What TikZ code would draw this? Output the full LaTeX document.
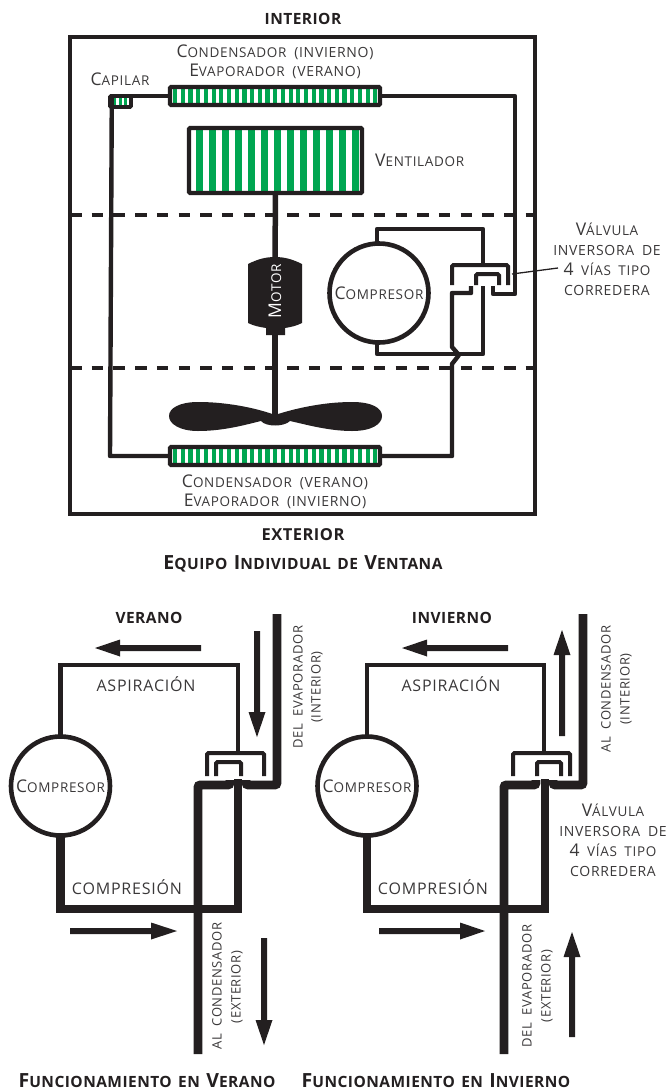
\documentclass[tikz,border=0pt]{standalone}
\usepackage{fontspec}
\setmainfont[LetterSpace=5,WordSpace=1.8]{Open Sans}
\newfontfamily\headfont[LetterSpace=3,WordSpace=2.2]{Open Sans}
\definecolor{coilgreen}{HTML}{00A651}
\definecolor{inkblack}{HTML}{231F20}
\definecolor{labelgray}{HTML}{3A3839}
% big first letter, smaller rest
\newcommand{\capsm}[2]{{\fontsize{17.5}{20}\selectfont #1}{\fontsize{13.5}{20}\selectfont #2}}
\newcommand{\hdcapsm}[2]{{\fontsize{19.5}{20}\selectfont #1}{\fontsize{15.5}{20}\selectfont #2}}
\begin{document}
\begin{tikzpicture}[
    x=1pt, y=-1pt,
    label/.style={inner sep=0, text=labelgray, align=center, font=\fontsize{14}{20}\selectfont},
    bigl/.style={label, font=\fontsize{16}{20}\selectfont},
    vlabel/.style={label, rotate=90, font=\fontsize{13}{20}\selectfont},
    title/.style={inner sep=0, text=inkblack, font=\headfont\bfseries\fontsize{15.5}{20}\selectfont},
    heading/.style={inner sep=0, text=inkblack, font=\headfont\bfseries},
    frame/.style={draw=inkblack, line width=4.2pt},
    coil/.style={rectangle, draw=inkblack, line width=4.2pt, rounded corners=1pt, outer sep=0, inner sep=0, minimum width=210pt, minimum height=18pt},
    fanbox/.style={coil, minimum width=173pt, minimum height=65pt},
    capbox/.style={coil, line width=3.6pt, minimum width=21pt, minimum height=11pt},
    comp/.style={circle, draw=inkblack, line width=4.6pt, outer sep=0, inner sep=0, minimum size=99pt, text=labelgray},
    pipe/.style={draw=inkblack, line width=4.4pt, line join=round},
    thinpipe/.style={draw=inkblack, line width=4.4pt},
    fatpipe/.style={draw=inkblack, line width=8.6pt, rounded corners=2pt},
    slider/.style={draw=inkblack, line width=4pt, rounded corners=1.5pt},
    sep/.style={draw=inkblack, line width=3.2pt, dash pattern=on 11.5pt off 10.2pt},
    flow/.style={draw=none, fill=inkblack},
]

\useasboundingbox (0,0) rectangle (667,1090);

% Upper unit
\foreach \i in {0,...,26}
    \fill[coilgreen] ({173+7.7*\i},89) rectangle +(4.2,14);
\foreach \i in {0,...,26}
    \fill[coilgreen] ({173+7.7*\i},449) rectangle +(4.2,14);
\foreach \i in {0,...,12}
    \fill[coilgreen] ({196+13*\i},129) rectangle +(6.5,63);
\foreach \i in {0,1,2}
    \fill[coilgreen] ({113+5.6*\i},98) rectangle +(3,7);

\draw[frame] (70,37) rectangle (535,514);
\draw[sep] (70,215) -- (535,215);
\draw[sep] (70,368) -- (535,368);

\node[coil] (coiltop) at (275,96) {};
\node[coil] (coilbot) at (275,456) {};
\node[capbox] (capil) at (120.5,101.5) {};
\node[fanbox] (blower) at (275.5,160.5) {};
\node[comp] (compA) at (379,293) {\capsm{C}{OMPRESOR}};

% Motor and fan
\fill[inkblack] (248,264) .. controls (258,259) and (266,257) .. (275,257)
    .. controls (284,257) and (292,259) .. (302,264) -- (302,323)
    .. controls (296,326) and (291,327) .. (285,328) -- (285,335) -- (266,335) -- (266,328)
    .. controls (260,327) and (254,326) .. (248,323) -- cycle;
\node[rotate=90, inner sep=0, text=white] (motor) at (275,291) {\capsm{M}{OTOR}};
\coordinate (hub) at (275,417);
\draw[inkblack, line width=5.5pt] (blower.south) -- (275,258);
\draw[inkblack, line width=5.5pt] (275,334) -- (hub);
\fill[inkblack] (hub) ++(0,-2) .. controls (262,410) and (232,402) .. (198,402)
    .. controls (180,402) and (169,408) .. (169,416)
    .. controls (169,424) and (180,431) .. (198,431)
    .. controls (225,431) and (248,424) .. (261,421)
    .. controls (266,427) and (284,427) .. (290,421)
    .. controls (304,424) and (328,431) .. (352,431)
    .. controls (372,431) and (382,424) .. (382,416)
    .. controls (382,408) and (372,402) .. (352,402)
    .. controls (320,402) and (290,410) .. cycle;

% Refrigerant lines
\draw[pipe] (capil.north west) ++(1.8,1.8) -- (110,456) -- (coilbot.west);
\draw[pipe] (coiltop.west) -- (112,96);
\draw[pipe] (coiltop.east) -- (515,96) -- (515,294) -- (493,294) -- (493,286);
\draw[pipe] (coilbot.east) -- (452,456) -- (452,364) -- (459,355) -- (452,347) -- (452,293) -- (471,293) -- (471,286);
\draw[pipe] (377,245) -- (377,229) -- (483,229) -- (483,265);
\draw[pipe] (377,341) -- (377,354) -- (483,354) -- (483,286);
\draw[slider] (452,285) -- (452,265) -- (508,265) -- (508,285);
\draw[slider] (476,285) -- (476,274) -- (499,274) -- (499,285);
\coordinate (valvetip) at (512,274);
\coordinate (valvetxt) at (558,268);
\draw[inkblack, line width=1.3pt] (valvetip) -- (valvetxt);

\node[heading, font=\headfont\bfseries\fontsize{15.5}{20}\selectfont] (interior) at (303,19) {INTERIOR};
\node[label] (toplabel) at (275,62) {\capsm{C}{ONDENSADOR} (INVIERNO)\\[-0.6pt]\capsm{E}{VAPORADOR} (VERANO)};
\node[label] (caplabel) at (120,79) {\capsm{C}{APILAR}};
\node[label, anchor=west] (fanlabel) at (375,160) {\capsm{V}{ENTILADOR}};
\node[label] (valvelabel) at (607,259) {\capsm{V}{ÁLVULA}\\INVERSORA DE\\\capsm{4}{ VÍAS TIPO}\\CORREDERA};
\node[label] (botlabel) at (275,492) {\capsm{C}{ONDENSADOR} (VERANO)\\[-0.6pt]\capsm{E}{VAPORADOR} (INVIERNO)};
\node[heading, font=\headfont\bfseries\fontsize{16.5}{20}\selectfont] (exterior) at (303,535) {EXTERIOR};
\node[heading] (unittitle) at (303,564) {\hdcapsm{E}{QUIPO} \hdcapsm{I}{NDIVIDUAL} {\fontsize{15.5}{20}\selectfont DE} \hdcapsm{V}{ENTANA}};

% Summer
\node[comp] (compV) at (60.5,786) {\capsm{C}{OMPRESOR}};
\draw[thinpipe] (compV.north) -- (60.5,665) -- (238,665) -- (238,753);
\draw[slider] (207,776) -- (207,753) -- (264,753) -- (264,776);
\draw[slider] (216,776) -- (216,762) -- (241,762) -- (241,776);
\draw[fatpipe] (198,1054) -- (198,785) -- (230,785) -- (230,780);
\draw[fatpipe] (277,614) -- (277,785) -- (246,785) -- (246,780);
\draw[fatpipe, rounded corners=0] (238,779) -- (238,909) -- (60.5,909) -- (compV.south);

\fill[flow] (201,645) -- (120,645) -- (120,639.5) -- (95,648) -- (120,656.5) -- (120,651) -- (201,651) -- cycle;
\fill[flow] (70,928) -- (151,928) -- (151,922.5) -- (177,931) -- (151,939.5) -- (151,934) -- (70,934) -- cycle;
\fill[flow] (254,631) -- (254,712) -- (248.5,712) -- (257,737) -- (265.5,712) -- (260,712) -- (260,631) -- cycle;
\fill[flow] (261,938) -- (261,1020) -- (255.5,1020) -- (264,1045) -- (272.5,1020) -- (267,1020) -- (267,938) -- cycle;

\node[title] (verano) at (149,618) {VERANO};
\node[bigl] (aspV) at (146,684) {ASPIRACIÓN};
\node[bigl] (cpsV) at (127,887) {COMPRESIÓN};
\node[vlabel] (inV) at (298,687) {DEL EVAPORADOR};
\node[vlabel] (inVb) at (317,687) {(INTERIOR)};
\node[vlabel] (outV) at (217,986) {AL CONDENSADOR};
\node[vlabel] (outVb) at (237,987) {(EXTERIOR)};
\node[heading, anchor=base] (titleV) at (147,1087) {\hdcapsm{F}{UNCIONAMIENTO} {\fontsize{15.5}{20}\selectfont EN} \hdcapsm{V}{ERANO}};

% Winter
\node[comp] (compI) at (367,786) {\capsm{C}{OMPRESOR}};
\draw[thinpipe] (compI.north) -- (367,665) -- (544,665) -- (544,753);
\draw[slider] (513,776) -- (513,753) -- (570,753) -- (570,776);
\draw[slider] (537,776) -- (537,762) -- (561,762) -- (561,776);
\draw[fatpipe] (504,1054) -- (504,785) -- (536,785) -- (536,780);
\draw[fatpipe] (583,614) -- (583,785) -- (553,785) -- (553,780);
\draw[fatpipe, rounded corners=0] (545,779) -- (545,909) -- (367,909) -- (compI.south);

\fill[flow] (508,645) -- (427,645) -- (427,639.5) -- (402,648) -- (427,656.5) -- (427,651) -- (508,651) -- cycle;
\fill[flow] (379,928) -- (460,928) -- (460,922.5) -- (485,931) -- (460,939.5) -- (460,934) -- (379,934) -- cycle;
\fill[flow] (559,736) -- (559,655) -- (553.5,655) -- (562,630) -- (570.5,655) -- (565,655) -- (565,736) -- cycle;
\fill[flow] (569,1037) -- (569,957) -- (563.5,957) -- (572,932) -- (580.5,957) -- (575,957) -- (575,1037) -- cycle;

\node[title] (invierno) at (452,618) {INVIERNO};
\node[bigl] (aspI) at (451,684) {ASPIRACIÓN};
\node[bigl] (cpsI) at (433,887) {COMPRESIÓN};
\node[vlabel] (inI) at (606,689) {AL CONDENSADOR};
\node[vlabel] (inIb) at (626,689) {(INTERIOR)};
\node[vlabel] (outI) at (527,986) {DEL EVAPORADOR};
\node[vlabel] (outIb) at (547,986) {(EXTERIOR)};
\node[label] (valvelabelb) at (613,840) {\capsm{V}{ÁLVULA}\\INVERSORA DE\\\capsm{4}{ VÍAS TIPO}\\CORREDERA};
\node[heading, anchor=base] (titleI) at (436,1087) {\hdcapsm{F}{UNCIONAMIENTO} {\fontsize{15.5}{20}\selectfont EN} \hdcapsm{I}{NVIERNO}};

\end{tikzpicture}
\end{document}
